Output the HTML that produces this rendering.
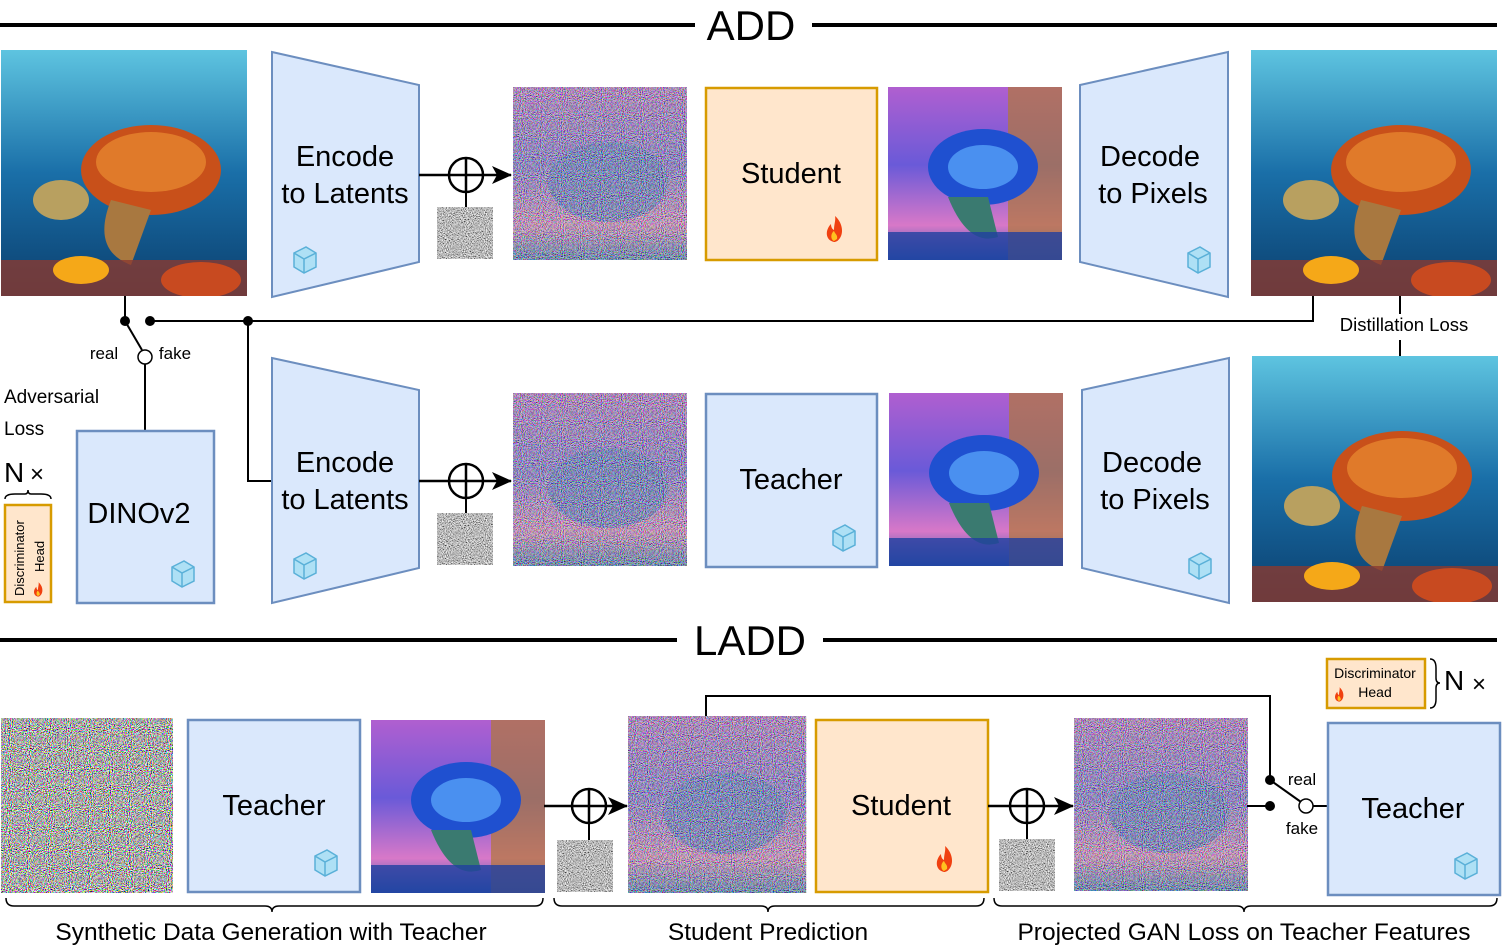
<!DOCTYPE html>
<html><head><meta charset="utf-8"><style>
html,body{margin:0;padding:0;background:#fff;}
svg{display:block;font-family:"Liberation Sans",Arial,sans-serif;}
</style></head><body>
<svg width="1503" height="948" viewBox="0 0 1503 948" xmlns="http://www.w3.org/2000/svg">
<defs>
  <filter id="nz" x="0" y="0" width="100%" height="100%">
    <feTurbulence type="fractalNoise" baseFrequency="0.95" numOctaves="1" seed="3"/>
    <feColorMatrix type="matrix" values="4 0 0 0 -1.5  0 4 0 0 -1.5  0 0 4 0 -1.5  0 0 0 0 1"/>
  </filter>
  <filter id="nzg" x="0" y="0" width="100%" height="100%">
    <feTurbulence type="fractalNoise" baseFrequency="0.95" numOctaves="1" seed="7"/>
    <feColorMatrix type="matrix" values="2 0 0 0 -0.5  2 0 0 0 -0.5  2 0 0 0 -0.5  0 0 0 0 1"/>
  </filter>
  <clipPath id="c246"><rect width="246" height="246"/></clipPath>
  <linearGradient id="sea" x1="0" y1="0" x2="0" y2="1">
    <stop offset="0" stop-color="#5ec4e0"/><stop offset="0.5" stop-color="#1a6fa8"/><stop offset="1" stop-color="#0b3f6e"/>
  </linearGradient>
  <linearGradient id="den" x1="0" y1="0" x2="0" y2="1">
    <stop offset="0" stop-color="#b05fd0"/><stop offset="0.45" stop-color="#6a5ad8"/><stop offset="0.8" stop-color="#d878c8"/><stop offset="1" stop-color="#2a60b0"/>
  </linearGradient>
  <g id="turtle" clip-path="url(#c246)">
    <rect width="246" height="246" fill="url(#sea)"/>
    <ellipse cx="150" cy="120" rx="70" ry="45" fill="#c8501a"/>
    <ellipse cx="150" cy="112" rx="55" ry="30" fill="#e07a2a"/>
    <ellipse cx="60" cy="150" rx="28" ry="20" fill="#b8a060"/>
    <path d="M110 150 Q90 200 130 215 L150 160Z" fill="#a87840"/>
    <rect y="210" width="246" height="36" fill="#8a3a30" opacity="0.8"/>
    <ellipse cx="80" cy="220" rx="28" ry="14" fill="#f5a818"/>
    <ellipse cx="200" cy="230" rx="40" ry="18" fill="#c84a20"/>
  </g>
  <g id="noisy">
    <rect width="174" height="173" fill="url(#den)"/>
    <ellipse cx="95" cy="95" rx="60" ry="40" fill="#3a5ac8" opacity="0.8"/>
    <rect width="174" height="173" filter="url(#nz)" opacity="0.6"/>
  </g>
  <g id="clean">
    <rect width="174" height="173" fill="url(#den)"/>
    <rect x="120" y="0" width="54" height="173" fill="#b07838" opacity="0.7"/>
    <ellipse cx="95" cy="80" rx="55" ry="38" fill="#1f50d0"/>
    <ellipse cx="95" cy="80" rx="35" ry="22" fill="#4a90f0"/>
    <path d="M60 110 Q80 160 110 150 L100 110Z" fill="#3a7a70"/>
    <rect y="145" width="174" height="28" fill="#2040a0" opacity="0.8"/>
  </g>
  <g id="nsq"><rect width="56" height="52" fill="#999" filter="url(#nzg)"/></g>
  <g id="ice">
    <path d="M-10 -6 L2 -12 L12 -6 L12 8 L0 14 L-10 8Z" fill="#aee0f5" stroke="#5ab0d8" stroke-width="1.5"/>
    <path d="M-10 -6 L0 0 L12 -6 M0 0 L0 14" fill="none" stroke="#5ab0d8" stroke-width="1.5"/>
  </g>
  <g id="fire">
    <path d="M0 12 C-9 10 -9 0 -3 -6 C-3 -1 0 0 0 0 C0 -6 2 -10 1 -14 C8 -8 10 2 6 8 C4 11 2 12 0 12Z" fill="#f04010"/>
    <path d="M0 11 C-4 9 -3 3 0 1 C1 4 4 5 3 9Z" fill="#ffc020"/>
  </g>
  <marker id="ar" markerWidth="20" markerHeight="18" refX="19" refY="9" orient="auto" markerUnits="userSpaceOnUse"><path d="M0 0 L20 9 L0 18 L5 9Z" fill="#000"/></marker>
</defs>

<!-- ADD title -->
<line x1="0" y1="25" x2="695" y2="25" stroke="#000" stroke-width="4"/>
<line x1="812" y1="25" x2="1497" y2="25" stroke="#000" stroke-width="4"/>
<text x="751" y="40" font-size="42" text-anchor="middle">ADD</text>

<!-- Row 1 -->
<use href="#turtle" x="1" y="50"/>
<polygon points="272,52 419,85 419,262 272,297" fill="#dae8fc" stroke="#6c8ebf" stroke-width="2"/>
<text x="345" y="166" font-size="29" text-anchor="middle">Encode</text>
<text x="345" y="203" font-size="29" text-anchor="middle">to Latents</text>
<use href="#ice" x="304" y="259"/>
<line x1="419" y1="175" x2="511" y2="175" stroke="#000" stroke-width="2.5" marker-end="url(#ar)"/>
<circle cx="466" cy="175" r="17" fill="#fff" stroke="#000" stroke-width="2.5"/>
<path d="M449 175 H483 M466 158 V192" stroke="#000" stroke-width="2.5"/>
<line x1="466" y1="192" x2="466" y2="207" stroke="#000" stroke-width="2"/>
<use href="#nsq" x="437" y="207"/>
<use href="#noisy" x="513" y="87"/>
<rect x="706" y="88" width="171" height="172" fill="#ffe6cc" stroke="#d79b00" stroke-width="2.5"/>
<text x="791" y="183" font-size="29" text-anchor="middle">Student</text>
<use href="#fire" x="834" y="230"/>
<use href="#clean" x="888" y="87"/>
<polygon points="1080,85 1228,52 1228,297 1080,262" fill="#dae8fc" stroke="#6c8ebf" stroke-width="2"/>
<text x="1150" y="166" font-size="29" text-anchor="middle">Decode</text>
<text x="1153" y="203" font-size="29" text-anchor="middle">to Pixels</text>
<use href="#ice" x="1198" y="259"/>
<use href="#turtle" x="1251" y="50"/>

<!-- connections -->
<line x1="125" y1="296" x2="125" y2="321" stroke="#000" stroke-width="2"/>
<circle cx="125" cy="321" r="5" fill="#000"/>
<circle cx="150" cy="321" r="5" fill="#000"/>
<polyline points="150,321 1313,321 1313,296" fill="none" stroke="#000" stroke-width="2"/>
<circle cx="248" cy="321" r="5" fill="#000"/>
<polyline points="248,321 248,481 272,481" fill="none" stroke="#000" stroke-width="2"/>
<line x1="125" y1="321" x2="142" y2="350" stroke="#000" stroke-width="2"/>
<circle cx="145" cy="357" r="7" fill="#fff" stroke="#000" stroke-width="1.5"/>
<line x1="145" y1="364" x2="145" y2="431" stroke="#000" stroke-width="2"/>
<text x="104" y="359" font-size="17" text-anchor="middle">real</text>
<text x="175" y="359" font-size="17" text-anchor="middle">fake</text>
<line x1="1400" y1="296" x2="1400" y2="314" stroke="#000" stroke-width="2"/>
<line x1="1400" y1="340" x2="1400" y2="356" stroke="#000" stroke-width="2"/>
<text x="1404" y="331" font-size="18.5" text-anchor="middle">Distillation Loss</text>

<text x="4" y="403" font-size="19">Adversarial</text>
<text x="4" y="435" font-size="19">Loss</text>
<text x="4" y="482" font-size="28">N</text>
<text x="30" y="482" font-size="24">×</text>
<path d="M5 499 Q5 494 15 494 L25 494 Q28 494 28 490 Q28 494 31 494 L41 494 Q51 494 51 499" fill="none" stroke="#000" stroke-width="1.5"/>
<rect x="5" y="505" width="46" height="97" fill="#ffe6cc" stroke="#d79b00" stroke-width="2.5"/>
<text transform="translate(24,596) rotate(-90)" font-size="13">Discriminator</text>
<text transform="translate(44,572) rotate(-90)" font-size="13">Head</text>
<g transform="translate(38,590) scale(0.55)"><use href="#fire"/></g>
<rect x="77" y="431" width="137" height="172" fill="#dae8fc" stroke="#6c8ebf" stroke-width="2.5"/>
<text x="139" y="523" font-size="29" text-anchor="middle">DINOv2</text>
<use href="#ice" x="182" y="573"/>

<!-- Row 2 -->
<polygon points="272,358 419,390 419,568 272,603" fill="#dae8fc" stroke="#6c8ebf" stroke-width="2"/>
<text x="345" y="472" font-size="29" text-anchor="middle">Encode</text>
<text x="345" y="509" font-size="29" text-anchor="middle">to Latents</text>
<use href="#ice" x="304" y="565"/>
<line x1="419" y1="481" x2="511" y2="481" stroke="#000" stroke-width="2.5" marker-end="url(#ar)"/>
<circle cx="466" cy="481" r="17" fill="#fff" stroke="#000" stroke-width="2.5"/>
<path d="M449 481 H483 M466 464 V498" stroke="#000" stroke-width="2.5"/>
<line x1="466" y1="498" x2="466" y2="513" stroke="#000" stroke-width="2"/>
<use href="#nsq" x="437" y="513"/>
<use href="#noisy" x="513" y="393"/>
<rect x="706" y="394" width="171" height="173" fill="#dae8fc" stroke="#6c8ebf" stroke-width="2.5"/>
<text x="791" y="489" font-size="29" text-anchor="middle">Teacher</text>
<use href="#ice" x="843" y="537"/>
<use href="#clean" x="889" y="393"/>
<polygon points="1082,390 1229,358 1229,603 1082,568" fill="#dae8fc" stroke="#6c8ebf" stroke-width="2"/>
<text x="1152" y="472" font-size="29" text-anchor="middle">Decode</text>
<text x="1155" y="509" font-size="29" text-anchor="middle">to Pixels</text>
<use href="#ice" x="1199" y="565"/>
<use href="#turtle" x="1252" y="356"/>

<!-- LADD title -->
<line x1="0" y1="640" x2="677" y2="640" stroke="#000" stroke-width="4"/>
<line x1="823" y1="640" x2="1497" y2="640" stroke="#000" stroke-width="4"/>
<text x="750" y="655" font-size="42" text-anchor="middle">LADD</text>

<!-- LADD row -->
<rect x="1" y="718" width="172" height="175" fill="#888" filter="url(#nz)"/>
<rect x="188" y="720" width="172" height="172" fill="#dae8fc" stroke="#6c8ebf" stroke-width="2.5"/>
<text x="274" y="815" font-size="29" text-anchor="middle">Teacher</text>
<use href="#ice" x="325" y="862"/>
<use href="#clean" x="371" y="720"/>
<line x1="544" y1="806" x2="627" y2="806" stroke="#000" stroke-width="2.5" marker-end="url(#ar)"/>
<circle cx="589" cy="806" r="17" fill="#fff" stroke="#000" stroke-width="2.5"/>
<path d="M572 806 H606 M589 789 V823" stroke="#000" stroke-width="2.5"/>
<line x1="589" y1="823" x2="589" y2="840" stroke="#000" stroke-width="2"/>
<use href="#nsq" x="557" y="840"/>
<g transform="translate(628,716) scale(1.023,1.023)"><use href="#noisy"/></g>
<rect x="816" y="720" width="172" height="172" fill="#ffe6cc" stroke="#d79b00" stroke-width="2.5"/>
<text x="901" y="815" font-size="29" text-anchor="middle">Student</text>
<use href="#fire" x="944" y="860"/>
<line x1="988" y1="806" x2="1073" y2="806" stroke="#000" stroke-width="2.5" marker-end="url(#ar)"/>
<circle cx="1027" cy="806" r="17" fill="#fff" stroke="#000" stroke-width="2.5"/>
<path d="M1010 806 H1044 M1027 789 V823" stroke="#000" stroke-width="2.5"/>
<line x1="1027" y1="823" x2="1027" y2="839" stroke="#000" stroke-width="2"/>
<use href="#nsq" x="999" y="839"/>
<use href="#noisy" x="1074" y="718"/>
<polyline points="706,716 706,696 1270,696 1270,780" fill="none" stroke="#000" stroke-width="2"/>
<circle cx="1270" cy="780" r="5" fill="#000"/>
<line x1="1247" y1="806" x2="1270" y2="806" stroke="#000" stroke-width="2"/>
<circle cx="1270" cy="806" r="5" fill="#000"/>
<line x1="1270" y1="780" x2="1301" y2="802" stroke="#000" stroke-width="2"/>
<circle cx="1306" cy="806" r="7" fill="#fff" stroke="#000" stroke-width="1.5"/>
<line x1="1313" y1="806" x2="1328" y2="806" stroke="#000" stroke-width="2"/>
<text x="1302" y="785" font-size="17" text-anchor="middle">real</text>
<text x="1302" y="834" font-size="17" text-anchor="middle">fake</text>
<rect x="1328" y="723" width="172" height="172" fill="#dae8fc" stroke="#6c8ebf" stroke-width="2.5"/>
<text x="1413" y="818" font-size="29" text-anchor="middle">Teacher</text>
<use href="#ice" x="1465" y="865"/>
<rect x="1327" y="659" width="98" height="49" fill="#ffe6cc" stroke="#d79b00" stroke-width="2.5"/>
<text x="1375" y="678" font-size="14" text-anchor="middle">Discriminator</text>
<text x="1375" y="697" font-size="14" text-anchor="middle">Head</text>
<g transform="translate(1339,695) scale(0.55)"><use href="#fire"/></g>
<path d="M1430 659 Q1436 659 1436 668 L1436 678 Q1436 683 1440 683 Q1436 683 1436 688 L1436 699 Q1436 708 1430 708" fill="none" stroke="#000" stroke-width="1.5"/>
<text x="1444" y="690" font-size="28">N</text>
<text x="1472" y="692" font-size="24">×</text>

<!-- braces -->
<path d="M6 898 Q6 906 14 906 L265 906 Q272 906 272 912 Q272 906 279 906 L535 906 Q543 906 543 898" fill="none" stroke="#000" stroke-width="1.5"/>
<path d="M554 898 Q554 906 562 906 L761 906 Q768 906 768 912 Q768 906 775 906 L976 906 Q984 906 984 898" fill="none" stroke="#000" stroke-width="1.5"/>
<path d="M994 898 Q994 906 1002 906 L1237 906 Q1244 906 1244 912 Q1244 906 1251 906 L1489 906 Q1497 906 1497 898" fill="none" stroke="#000" stroke-width="1.5"/>
<text x="271" y="940" font-size="24.5" text-anchor="middle">Synthetic Data Generation with Teacher</text>
<text x="768" y="940" font-size="24.5" text-anchor="middle">Student Prediction</text>
<text x="1244" y="940" font-size="24.5" text-anchor="middle">Projected GAN Loss on Teacher Features</text>
</svg>
</body></html>
